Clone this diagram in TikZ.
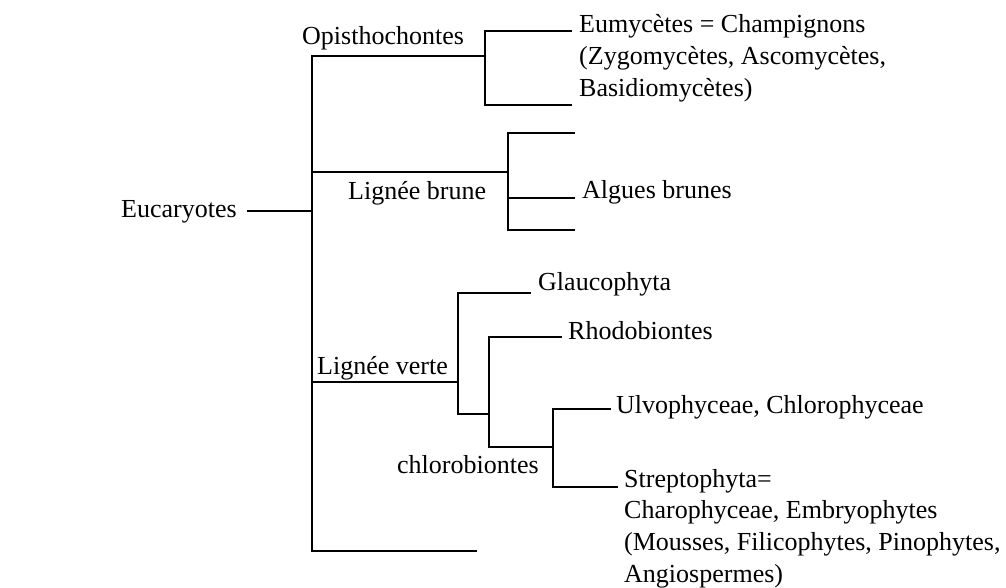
\documentclass[tikz,border=0pt]{standalone}
\usepackage{fontspec}
\setmainfont{Liberation Serif}
\begin{document}
\begin{tikzpicture}[x=1pt,y=-1pt,
  branch/.style={line width=2pt, line cap=rect},
  lbl/.style={inner sep=0pt, anchor=base west, font=\fontsize{26}{31.7}\selectfont}]
\useasboundingbox (0,0) rectangle (1006,588);
% labels
\node[lbl] (euc) at (121,217) {Eucaryotes};
\node[lbl] (opi) at (302,45) {Opisthochontes};
\node[lbl] (eum) at (579,33) {\begin{tabular}[t]{@{}l@{}}Eumycètes = Champignons\\(Zygomycètes, Ascomycètes,\\Basidiomycètes)\end{tabular}};
\node[lbl] (lbr) at (348,200) {Lignée brune};
\node[lbl] (alg) at (582,199) {Algues brunes};
\node[lbl] (lve) at (317,374) {Lignée verte};
\node[lbl] (gla) at (538,290) {Glaucophyta};
\node[lbl] (rho) at (568,339) {Rhodobiontes};
\node[lbl] (chl) at (397,473) {chlorobiontes};
\node[lbl] (ulv) at (616,413) {Ulvophyceae, Chlorophyceae};
\node[lbl] (str) at (624,487) {\begin{tabular}[t]{@{}l@{}}Streptophyta=\\Charophyceae, Embryophytes\\(Mousses, Filicophytes, Pinophytes,\\Angiospermes)\end{tabular}};
% junction coordinates
\coordinate (stub) at (248,211);
\coordinate (root) at (312,211);
\coordinate (spT) at (312,56);
\coordinate (spB) at (312,551);
\coordinate (opJ) at (485,56);
\coordinate (opT) at (485,31);
\coordinate (opB) at (485,105);
\coordinate (eumE) at (571,31);
\coordinate (opBE) at (571,105);
\coordinate (brS) at (312,172);
\coordinate (brJ) at (508,172);
\coordinate (brT) at (508,133);
\coordinate (brB) at (508,230);
\coordinate (brM) at (508,198);
\coordinate (brTE) at (574,133);
\coordinate (brME) at (574,198);
\coordinate (brBE) at (574,230);
\coordinate (vtS) at (312,382);
\coordinate (vtJ) at (458,382);
\coordinate (vtT) at (458,293);
\coordinate (vtB) at (458,414);
\coordinate (glaE) at (530,293);
\coordinate (rhJ) at (489,414);
\coordinate (rhT) at (489,337);
\coordinate (rhB) at (489,447);
\coordinate (rhoE) at (561,337);
\coordinate (chJ) at (553,447);
\coordinate (chT) at (553,409);
\coordinate (chB) at (553,487);
\coordinate (ulvE) at (610,409);
\coordinate (strE) at (617,487);
\coordinate (botE) at (476,551);
% branches
\draw[branch] (stub) -- (root);
\draw[branch] (spT) -- (spB);
\draw[branch] (spT) -- (opJ);
\draw[branch] (opT) -- (opB);
\draw[branch] (opT) -- (eumE);
\draw[branch] (opB) -- (opBE);
\draw[branch] (brS) -- (brJ);
\draw[branch] (brT) -- (brB);
\draw[branch] (brT) -- (brTE);
\draw[branch] (brM) -- (brME);
\draw[branch] (brB) -- (brBE);
\draw[branch] (vtS) -- (vtJ);
\draw[branch] (vtT) -- (vtB);
\draw[branch] (vtT) -- (glaE);
\draw[branch] (vtB) -- (rhJ);
\draw[branch] (rhT) -- (rhB);
\draw[branch] (rhT) -- (rhoE);
\draw[branch] (rhB) -- (chJ);
\draw[branch] (chT) -- (chB);
\draw[branch] (chT) -- (ulvE);
\draw[branch] (chB) -- (strE);
\draw[branch] (spB) -- (botE);
\end{tikzpicture}
\end{document}
